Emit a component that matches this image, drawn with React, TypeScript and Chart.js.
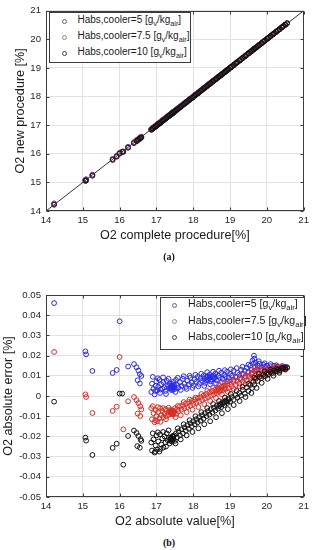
import React, { useEffect, useRef } from 'react';
import { Chart, registerables } from 'chart.js';
Chart.register(...registerables);

// ---------- DATA ----------
const xTickValues = [14, 15, 16, 17, 18, 19, 20, 21];
const yTickValuesA = [14, 15, 16, 17, 18, 19, 20, 21];
const yTickValuesB = [-0.05, -0.04, -0.03, -0.02, -0.01, 0, 0.01, 0.02, 0.03, 0.04, 0.05];
const diagonalLine = [14, 21];

const seriesLabels = ['5', '7.5', '10'];

// [O2 absolute value %, O2 absolute error %]
const cooler5: [number, number][] = [
  [14.22, 0.046], [15.07, 0.0221], [15.09, 0.0206], [15.26, 0.0124], [15.81, 0.0114], [15.92, 0.0129],
  [16.0, 0.037], [16.23, 0.0146], [16.39, 0.0158], [16.46, 0.0142], [16.51, 0.0126], [16.55, 0.0108],
  [16.59, 0.0099], [16.49, 0.0078], [16.55, 0.0062],
  [16.86, 0.002], [16.88, 0.0061], [16.92, 0.0035], [16.95, 0.0008], [16.98, 0.005], [17.0, 0.0072],
  [17.02, 0.0028], [17.05, 0.0045], [17.08, 0.008], [17.1, 0.0015], [17.13, 0.0058], [17.16, 0.0036],
  [17.19, 0.0068], [17.22, 0.0042], [17.25, 0.0025], [17.28, 0.0075], [17.31, 0.005], [17.34, 0.0038],
  [17.36, 0.0062], [17.38, 0.0045], [17.4, 0.003], [17.42, 0.0052], [17.44, 0.004], [17.46, 0.007],
  [17.48, 0.0046], [17.5, 0.0035], [17.53, 0.008], [17.56, 0.0055], [17.6, 0.0042], [17.64, 0.0068],
  [17.68, 0.005], [17.72, 0.0085], [17.76, 0.006], [17.8, 0.0045], [17.84, 0.0075], [17.88, 0.0058],
  [17.92, 0.009], [17.96, 0.0066], [18.0, 0.0052], [18.04, 0.0082], [18.08, 0.007], [18.12, 0.0095],
  [18.16, 0.006], [18.2, 0.0088], [18.24, 0.0075], [18.28, 0.01], [18.32, 0.0065], [18.36, 0.0092],
  [18.4, 0.008], [18.44, 0.0105], [18.48, 0.0072], [18.52, 0.0095], [18.56, 0.0085], [18.6, 0.011],
  [18.64, 0.0078], [18.68, 0.01], [18.72, 0.009], [18.76, 0.0115], [18.8, 0.0085], [18.84, 0.0105],
  [18.88, 0.0095], [18.92, 0.012], [18.96, 0.009], [19.0, 0.011], [19.05, 0.01], [19.1, 0.0125],
  [19.15, 0.0095], [19.2, 0.0115], [19.25, 0.0105], [19.3, 0.013], [19.35, 0.011], [19.4, 0.0125],
  [19.45, 0.014], [19.5, 0.012], [19.55, 0.015], [19.58, 0.013], [19.61, 0.0175], [19.63, 0.016],
  [19.65, 0.02], [19.68, 0.0145], [19.7, 0.0165], [19.75, 0.015], [19.8, 0.016], [19.85, 0.014],
  [19.9, 0.0155], [19.95, 0.0145], [20.0, 0.015], [20.05, 0.0138], [20.1, 0.0148], [20.15, 0.0135],
  [20.2, 0.015], [20.25, 0.014], [20.3, 0.0145], [20.35, 0.0138], [20.4, 0.0142], [20.45, 0.014],
  [20.5, 0.0138], [20.55, 0.014],
  [17.38, 0.004], [17.4, 0.005], [17.42, 0.0035], [17.44, 0.0048], [17.46, 0.0042], [17.48, 0.0055],
  [17.41, 0.006], [17.45, 0.003], [18.3, 0.0085], [18.35, 0.0078], [18.38, 0.0098], [18.42, 0.0088],
  [18.46, 0.0095], [18.5, 0.0082], [18.55, 0.0102], [18.58, 0.0092],
  [16.9, 0.0095], [16.97, 0.0025], [17.04, 0.0088], [17.11, 0.0032], [17.18, 0.0092], [17.26, 0.001],
  [17.33, 0.0085], [17.52, 0.002], [17.58, 0.009], [17.66, 0.003], [17.74, 0.0098], [17.82, 0.0035],
  [17.9, 0.01], [17.98, 0.004], [18.06, 0.0105], [18.14, 0.0048], [18.22, 0.011], [18.3, 0.005],
  [18.38, 0.0118], [18.46, 0.0058], [18.54, 0.012], [18.62, 0.0062], [18.7, 0.0125], [18.78, 0.0068],
  [18.86, 0.0128], [18.94, 0.0072], [19.02, 0.0132], [19.1, 0.008], [19.18, 0.0138], [19.26, 0.0088],
  [19.34, 0.0145], [19.42, 0.0098], [19.5, 0.0155], [19.58, 0.011], [19.66, 0.0185], [19.72, 0.013],
  [19.78, 0.0172], [19.86, 0.0128], [19.94, 0.0162], [20.02, 0.013], [20.1, 0.0158], [20.18, 0.0132],
  [20.26, 0.0152], [20.34, 0.0135], [20.42, 0.0148], [20.5, 0.0145],
];

const cooler75: [number, number][] = [
  [14.22, 0.0218], [15.07, 0.0008], [15.09, -0.0005], [15.26, -0.0084], [15.81, -0.0074], [15.92, -0.0053],
  [16.0, 0.0193], [16.1, -0.0165], [16.23, -0.0026], [16.39, -0.0005], [16.46, -0.0021], [16.51, -0.0035],
  [16.56, -0.0051], [16.59, -0.0066], [16.49, -0.0087], [16.56, -0.0099],
  [16.86, -0.006], [16.88, -0.0115], [16.92, -0.0085], [16.95, -0.013], [16.98, -0.007], [17.0, -0.01],
  [17.02, -0.0125], [17.05, -0.008], [17.08, -0.011], [17.1, -0.006], [17.13, -0.0095], [17.16, -0.0075],
  [17.19, -0.0105], [17.22, -0.0088], [17.25, -0.0065], [17.28, -0.01], [17.31, -0.0082], [17.34, -0.0092],
  [17.36, -0.007], [17.38, -0.008], [17.4, -0.0085], [17.42, -0.0078], [17.44, -0.009], [17.46, -0.0072],
  [17.48, -0.0082], [17.5, -0.006], [17.53, -0.0088], [17.56, -0.0065], [17.6, -0.0075], [17.64, -0.005],
  [17.68, -0.0068], [17.72, -0.0045], [17.76, -0.006], [17.8, -0.0038], [17.84, -0.0055], [17.88, -0.003],
  [17.92, -0.0048], [17.96, -0.0025], [18.0, -0.004], [18.04, -0.0018], [18.08, -0.0035], [18.12, -0.001],
  [18.16, -0.0028], [18.2, -0.0005], [18.24, -0.002], [18.28, 0.0002], [18.32, -0.0012], [18.36, 0.001],
  [18.4, -0.0005], [18.44, 0.0018], [18.48, 0.0002], [18.52, 0.0025], [18.56, 0.0008], [18.6, 0.0032],
  [18.64, 0.0015], [18.68, 0.004], [18.72, 0.0022], [18.76, 0.0045], [18.8, 0.003], [18.84, 0.0052],
  [18.88, 0.0035], [18.92, 0.006], [18.96, 0.004], [19.0, 0.0058], [19.05, 0.0048], [19.1, 0.007],
  [19.15, 0.0055], [19.2, 0.0075], [19.25, 0.0062], [19.3, 0.0082], [19.35, 0.007], [19.4, 0.009],
  [19.45, 0.0078], [19.5, 0.0098], [19.55, 0.0085], [19.6, 0.0115], [19.63, 0.0095], [19.66, 0.0125],
  [19.7, 0.0105], [19.75, 0.0118], [19.8, 0.0108], [19.85, 0.0125], [19.9, 0.0112], [19.95, 0.0128],
  [20.0, 0.0118], [20.05, 0.0132], [20.1, 0.0122], [20.15, 0.0135], [20.2, 0.0128], [20.25, 0.0138],
  [20.3, 0.0132], [20.35, 0.014], [20.4, 0.0136], [20.45, 0.0142], [20.5, 0.0138], [20.55, 0.014],
  [17.38, -0.0075], [17.4, -0.0082], [17.42, -0.0088], [17.44, -0.0079], [17.46, -0.0085], [17.41, -0.007],
  [17.45, -0.0092], [17.43, -0.008], [18.6, 0.002], [18.65, 0.0028], [18.7, 0.0035], [18.75, 0.003],
  [18.8, 0.0042], [18.85, 0.0038],
  [16.9, -0.005], [16.97, -0.012], [17.04, -0.0055], [17.11, -0.0128], [17.18, -0.006], [17.26, -0.0115],
  [17.33, -0.0058], [17.52, -0.0105], [17.58, -0.005], [17.66, -0.0095], [17.74, -0.003], [17.82, -0.008],
  [17.9, -0.0018], [17.98, -0.0068], [18.06, -0.0008], [18.14, -0.0055], [18.22, 0.001], [18.3, -0.004],
  [18.38, 0.0025], [18.46, -0.0025], [18.54, 0.004], [18.62, -0.001], [18.7, 0.0055], [18.78, 0.0008],
  [18.86, 0.0068], [18.94, 0.002], [19.02, 0.008], [19.1, 0.0035], [19.18, 0.0092], [19.26, 0.0048],
  [19.34, 0.0105], [19.42, 0.006], [19.5, 0.0115], [19.58, 0.0072], [19.66, 0.014], [19.72, 0.009],
  [19.78, 0.0138], [19.86, 0.0098], [19.94, 0.014], [20.02, 0.0105], [20.1, 0.0142], [20.18, 0.0112],
  [20.26, 0.0145], [20.34, 0.0122], [20.42, 0.0148], [20.5, 0.013],
];

const cooler10: [number, number][] = [
  [14.22, -0.0028], [15.07, -0.0206], [15.09, -0.0221], [15.26, -0.0292], [15.81, -0.0257], [15.92, -0.0236],
  [16.0, 0.0012], [16.07, 0.0012], [16.1, -0.034], [16.23, -0.0198], [16.39, -0.0171], [16.46, -0.0183],
  [16.51, -0.0198], [16.57, -0.0214], [16.59, -0.0222], [16.48, -0.0248], [16.55, -0.0256],
  [16.86, -0.023], [16.88, -0.027], [16.92, -0.0215], [16.95, -0.028], [16.98, -0.0245], [17.0, -0.0195],
  [17.02, -0.0265], [17.05, -0.0225], [17.08, -0.0275], [17.1, -0.019], [17.13, -0.024], [17.16, -0.021],
  [17.19, -0.0255], [17.22, -0.02], [17.25, -0.023], [17.28, -0.0185], [17.31, -0.022], [17.34, -0.0205],
  [17.36, -0.0235], [17.38, -0.0212], [17.4, -0.0208], [17.42, -0.0225], [17.44, -0.02], [17.46, -0.0215],
  [17.48, -0.0195], [17.5, -0.0222], [17.53, -0.0185], [17.56, -0.0205], [17.6, -0.0175], [17.64, -0.0195],
  [17.68, -0.0165], [17.72, -0.0185], [17.76, -0.0155], [17.8, -0.0172], [17.84, -0.0145], [17.88, -0.0162],
  [17.92, -0.0135], [17.96, -0.015], [18.0, -0.0125], [18.04, -0.014], [18.08, -0.0115], [18.12, -0.013],
  [18.16, -0.0105], [18.2, -0.0122], [18.24, -0.0095], [18.28, -0.0112], [18.32, -0.0085], [18.36, -0.01],
  [18.4, -0.0075], [18.44, -0.0092], [18.48, -0.0065], [18.52, -0.0082], [18.56, -0.0058], [18.6, -0.0072],
  [18.64, -0.0048], [18.68, -0.0062], [18.72, -0.004], [18.76, -0.0055], [18.8, -0.003], [18.84, -0.0045],
  [18.88, -0.0022], [18.92, -0.0035], [18.96, -0.0012], [19.0, -0.0028], [19.05, -0.0005], [19.1, -0.0018],
  [19.15, 0.0005], [19.2, -0.0008], [19.25, 0.0015], [19.3, 0.0002], [19.35, 0.003], [19.4, 0.0012],
  [19.45, 0.0042], [19.5, 0.0025], [19.55, 0.0055], [19.6, 0.004], [19.63, 0.007], [19.66, 0.0055],
  [19.7, 0.0085], [19.75, 0.0075], [19.8, 0.0095], [19.85, 0.0088], [19.9, 0.0105], [19.95, 0.0098],
  [20.0, 0.0112], [20.05, 0.0108], [20.1, 0.012], [20.15, 0.0115], [20.2, 0.0125], [20.25, 0.0122],
  [20.3, 0.013], [20.35, 0.0128], [20.4, 0.0135], [20.45, 0.0138], [20.5, 0.014], [20.55, 0.0142],
  [17.38, -0.0215], [17.4, -0.0205], [17.42, -0.0218], [17.44, -0.021], [17.46, -0.0202], [17.41, -0.0225],
  [17.45, -0.0198], [17.43, -0.0212], [18.7, -0.005], [18.75, -0.0042], [18.8, -0.0038], [18.85, -0.003],
  [18.9, -0.0028], [18.95, -0.002],
  [16.9, -0.0185], [16.97, -0.0275], [17.04, -0.018], [17.11, -0.0262], [17.18, -0.0178], [17.26, -0.025],
  [17.33, -0.017], [17.52, -0.0235], [17.58, -0.016], [17.66, -0.0215], [17.74, -0.014], [17.82, -0.0195],
  [17.9, -0.012], [17.98, -0.0178], [18.06, -0.01], [18.14, -0.016], [18.22, -0.008], [18.3, -0.014],
  [18.38, -0.006], [18.46, -0.0125], [18.54, -0.004], [18.62, -0.0105], [18.7, -0.0025], [18.78, -0.0085],
  [18.86, -0.0008], [18.94, -0.0065], [19.02, 0.001], [19.1, -0.0045], [19.18, 0.0025], [19.26, -0.0025],
  [19.34, 0.0045], [19.42, -0.0005], [19.5, 0.006], [19.58, 0.0015], [19.66, 0.009], [19.72, 0.004],
  [19.78, 0.011], [19.86, 0.0065], [19.94, 0.0122], [20.02, 0.0085], [20.1, 0.013], [20.18, 0.01],
  [20.26, 0.0135], [20.34, 0.0115], [20.42, 0.014], [20.5, 0.0132],
];

// ---------- STYLE ----------
const seriesData = [cooler5, cooler75, cooler10];
const pointColors = ['rgb(40,40,235)', 'rgb(215,45,35)', '#111111'];
const legendColors = ['#5a5ad0', '#b8806a', '#454545'];
const drawOrder = [2, 1, 0];
const FONT = "'Liberation Sans', Arial, Helvetica, sans-serif";

const framePlugin = {
  id: 'frame',
  afterDraw(chart: any) {
    const { ctx, chartArea: a, scales } = chart;
    const L = Math.round(a.left) + 0.5, R = Math.round(a.right) - 0.5;
    const T = Math.round(a.top) + 0.5, B = Math.round(a.bottom) - 0.5;
    ctx.save();
    ctx.strokeStyle = '#3c3c3c';
    ctx.lineWidth = 1;
    ctx.beginPath();
    const tl = 3;
    scales.x.ticks.forEach((t: any) => {
      const px = Math.round(scales.x.getPixelForValue(t.value)) + 0.5;
      ctx.moveTo(px, B); ctx.lineTo(px, B - tl);
      ctx.moveTo(px, T); ctx.lineTo(px, T + tl);
    });
    scales.y.ticks.forEach((t: any) => {
      const py = Math.round(scales.y.getPixelForValue(t.value)) + 0.5;
      ctx.moveTo(L, py); ctx.lineTo(L + tl, py);
      ctx.moveTo(R, py); ctx.lineTo(R - tl, py);
    });
    ctx.stroke();
    ctx.strokeRect(L, T, R - L, B - T);
    ctx.restore();
  },
};

function makeOptions(yMin: number, yMax: number, yTicks: number[], xTitle: string, yTitle: string,
  yTitlePad: number, padTop: number, fmt: (v: number) => string) {
  return {
    animation: false,
    responsive: false,
    devicePixelRatio: 1,
    layout: { padding: { left: 0, right: 8, top: padTop, bottom: 0 } },
    plugins: { legend: { display: false }, tooltip: { enabled: false } },
    scales: {
      x: {
        type: 'linear',
        min: 14, max: 21,
        afterBuildTicks: (s: any) => { s.ticks = xTickValues.map((v) => ({ value: v })); },
        afterFit: (s: any) => { s.height = 38; },
        grid: { color: '#e2e2e2', drawTicks: false, tickLength: 0 },
        border: { display: false },
        ticks: { padding: 4, color: '#262626', font: { family: FONT, size: 9.6 }, maxRotation: 0, callback: (v: any) => String(v) },
        title: { display: true, text: xTitle, color: '#1a1a1a', font: { family: FONT, size: 12.6 }, padding: { top: 0, bottom: 5.8 } },
      },
      y: {
        type: 'linear',
        min: yMin, max: yMax,
        afterBuildTicks: (s: any) => { s.ticks = yTicks.map((v) => ({ value: v })); },
        afterFit: (s: any) => { s.width = 46; },
        grid: { color: '#e2e2e2', drawTicks: false, tickLength: 0 },
        border: { display: false },
        ticks: { padding: 5, color: '#262626', font: { family: FONT, size: 9.6 }, callback: (v: any) => fmt(Number(v)) },
        title: { display: true, text: yTitle, color: '#1a1a1a', font: { family: FONT, size: 12.6 }, padding: { top: yTitlePad, bottom: 0 } },
      },
    },
  };
}

function Legend({ left, top, width, height, rowYs, markerX, textX, fontSize }: any) {
  return (
    <div style={{ position: 'absolute', left: 0, top: 0 }}>
      <div style={{ position: 'absolute', left, top, width, height, border: '1px solid #3c3c3c', background: '#fff', boxSizing: 'border-box' }} />
      {seriesLabels.map((lab, i) => (
        <React.Fragment key={lab}>
          <div style={{ position: 'absolute', left: markerX - 2.5, top: rowYs[i] - 2.5, width: 5, height: 5, borderRadius: '50%', border: `1px solid ${legendColors[i]}`, boxSizing: 'border-box' }} />
          <div style={{ position: 'absolute', left: textX, top: rowYs[i] - fontSize * 0.62, fontFamily: FONT, fontSize, lineHeight: `${fontSize}px`, color: '#1a1a1a', whiteSpace: 'nowrap' }}>
            Habs,cooler={lab} [g<sub style={{ fontSize: '0.72em', verticalAlign: '-0.35em', lineHeight: 0 }}>v</sub>/kg<sub style={{ fontSize: '0.72em', verticalAlign: '-0.35em', lineHeight: 0 }}>air</sub>]
          </div>
        </React.Fragment>
      ))}
    </div>
  );
}

export default function App() {
  const refA = useRef<HTMLCanvasElement>(null);
  const refB = useRef<HTMLCanvasElement>(null);

  useEffect(() => {
    const dsA: any[] = seriesData.map((pts, i) => ({
      label: seriesLabels[i],
      data: pts.map(([v, e]) => ({ x: v, y: v + e })),
      pointStyle: 'circle', pointRadius: 2.4, pointBorderWidth: 1,
      pointBorderColor: pointColors[i], pointBackgroundColor: 'rgba(0,0,0,0)',
      showLine: false, order: drawOrder[i] + 1,
    }));
    dsA.push({
      label: 'line', data: diagonalLine.map((v) => ({ x: v, y: v })), showLine: true,
      borderColor: '#333', borderWidth: 1, pointRadius: 0, order: 0,
    });
    const chartA = new Chart(refA.current!, {
      type: 'scatter',
      data: { datasets: dsA },
      options: makeOptions(14, 21, yTickValuesA, 'O2 complete procedure[%]', 'O2 new procedure [%]', 12.5, 9,
        (v) => String(v)) as any,
      plugins: [framePlugin],
    });

    const dsB: any[] = seriesData.map((pts, i) => ({
      label: seriesLabels[i],
      data: pts.map(([v, e]) => ({ x: v, y: e })),
      pointStyle: 'circle', pointRadius: 2.4, pointBorderWidth: 1,
      pointBorderColor: pointColors[i], pointBackgroundColor: 'rgba(0,0,0,0)',
      showLine: false, order: drawOrder[i],
    }));
    const chartB = new Chart(refB.current!, {
      type: 'scatter',
      data: { datasets: dsB },
      options: makeOptions(-0.05, 0.05, yTickValuesB, 'O2 absolute value[%]', 'O2 absolute error [%]', 0.5, 25,
        (v) => { const r = Math.round(v * 100) / 100; return r === 0 ? '0' : r.toFixed(2); }) as any,
      plugins: [framePlugin],
    });
    return () => { chartA.destroy(); chartB.destroy(); };
  }, []);

  const caption = { position: 'absolute' as const, width: 40, textAlign: 'center' as const, fontFamily: "'Liberation Serif', 'Times New Roman', serif", fontWeight: 700, fontSize: 10, lineHeight: '12px', color: '#111' };

  return (
    <div style={{ position: 'fixed', left: 0, top: 0, width: 313, height: 550, background: '#fff', overflow: 'hidden' }}>
      <canvas ref={refA} width={313} height={249} style={{ position: 'absolute', left: 0, top: 0, width: 313, height: 249 }} />
      <canvas ref={refB} width={313} height={265} style={{ position: 'absolute', left: 0, top: 270, width: 313, height: 265 }} />
      <Legend left={49} top={11.5} width={142} height={51} rowYs={[21, 37.5, 53.5]} markerX={64} textX={77.5} fontSize={10} />
      <Legend left={160} top={297} width={145} height={53} rowYs={[305, 321.5, 337.5]} markerX={174} textX={188} fontSize={10.6} />
      <div style={{ ...caption, left: 149, top: 251 }}>(a)</div>
      <div style={{ ...caption, left: 149, top: 537 }}>(b)</div>
    </div>
  );
}
